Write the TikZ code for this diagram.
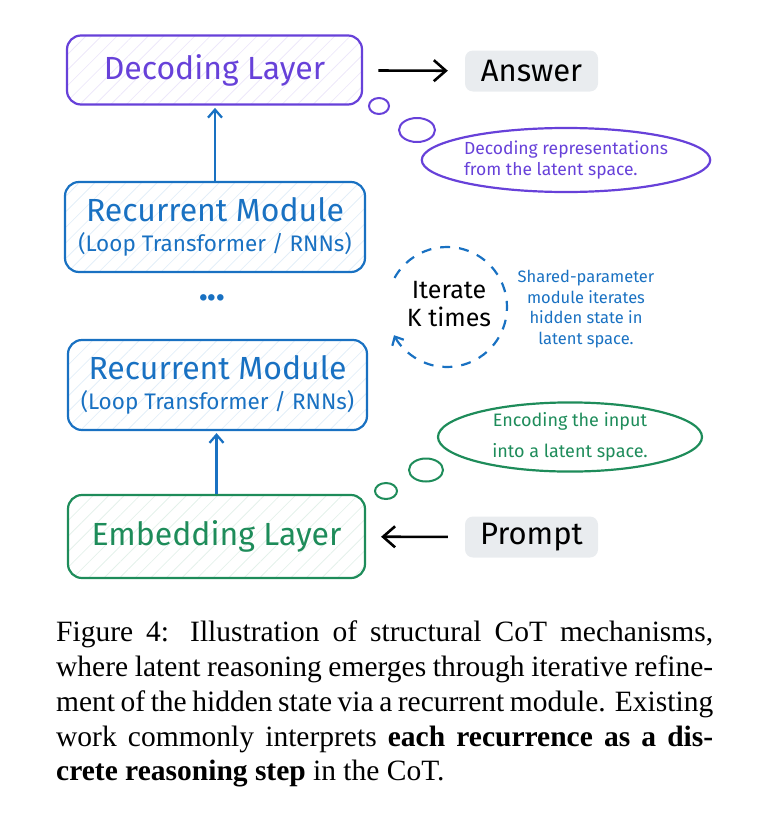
\documentclass[tikz,border=0pt]{standalone}
\usepackage{fontspec}
\setmainfont{Liberation Serif}
\newfontfamily\handfont{Fira Sans}
\usetikzlibrary{arrows.meta,patterns.meta,shapes.geometric}
\definecolor{violetx}{HTML}{6741D9}
\definecolor{bluex}{HTML}{1971C2}
\definecolor{greenx}{HTML}{1E8C5A}
\definecolor{grayx}{HTML}{E9ECEF}
\tikzset{
  layer/.style={draw=#1, line width=2.2pt, rounded corners=14pt, text=#1,
    pattern={Lines[angle=45,distance=11pt,line width=0.8pt]}, pattern color=#1!12,
    align=center, inner sep=0pt, font=\handfont\fontsize{32}{34}\selectfont},
  tag/.style={fill=grayx, rounded corners=8pt, minimum width=133pt, minimum height=41pt,
    inner sep=0pt, font=\handfont\fontsize{31}{34}\selectfont},
  thought/.style={ellipse, draw=#1, line width=2.2pt, text=#1, inner sep=0pt},
  bubble/.style={draw=#1, line width=2pt},
  blackarrow/.style={-{Straight Barb[length=12pt,width=21pt]}, line width=2.6pt},
  bluearrow/.style={-{Straight Barb[length=8pt,width=14pt]}, line width=2.3pt, bluex},
}
\newcommand{\subfont}{\fontsize{22.5}{24}\selectfont}
\begin{document}
\begin{tikzpicture}[x=1pt,y=-1pt]
\useasboundingbox (0,0) rectangle (773,822);
\node[layer=violetx, minimum width=295pt, minimum height=69pt] (dec) at (214.5,70) {Decoding Layer};
\node[layer=bluex, minimum width=300pt, minimum height=90pt] (rec1) at (215,227)
  {Recurrent Module\\[-4pt]{\subfont (Loop Transformer / RNNs)}};
\node[text=bluex, font=\handfont\bfseries\fontsize{36}{36}\selectfont] (dots) at (212,298) {...};
\node[layer=bluex, minimum width=299pt, minimum height=90pt] (rec2) at (217.5,385)
  {Recurrent Module\\[-4pt]{\subfont (Loop Transformer / RNNs)}};
\node[layer=greenx, minimum width=297pt, minimum height=83pt] (emb) at (216.5,536.5) {Embedding Layer};

\node[tag] (ans) at (531.5,71) {Answer};
\node[tag] (prompt) at (531.5,537) {Prompt};
\draw[blackarrow, shorten <=16pt, shorten >=17pt] (dec) -- (ans);
\draw[blackarrow, shorten <=17pt, shorten >=15pt] (prompt) -- (emb);
\draw[bluearrow, shorten >=3pt] (rec1.north) -- (rec1.north |- dec.south);
\draw[bluearrow, shorten >=2pt] (emb.north) -- (emb.north |- rec2.south);

\draw[bubble=violetx] (379,106) ellipse [x radius=10, y radius=8];
\draw[bubble=violetx] (417,130) ellipse [x radius=18, y radius=12];
\node[thought=violetx, minimum width=262pt, minimum height=64pt, align=left,
  font=\handfont\fontsize{17.5}{21}\selectfont] (decnote) at (566,160)
  {Decoding representations\\from the latent space.};

\draw[bubble=greenx] (386,491) ellipse [x radius=11, y radius=8];
\draw[bubble=greenx] (426,470) ellipse [x radius=17, y radius=11.5];
\node[thought=greenx, minimum width=264pt, minimum height=68pt, align=center,
  font=\handfont\fontsize{18}{31}\selectfont] (embnote) at (570,437)
  {Encoding the input\\into a latent space.};

\coordinate (loopc) at (447,307);
\draw[bluex, line width=2.2pt, dash pattern=on 10pt off 9pt, -{Straight Barb[length=7pt,width=13pt]}]
  (loopc) ++(209:60) arc[start angle=209, end angle=512, radius=60];
\node[align=center, font=\handfont\fontsize{25}{28}\selectfont] (iter) at (449,304) {Iterate\\K times};
\node[align=center, text=bluex, font=\handfont\fontsize{16.5}{20.7}\selectfont] (share) at (586,309)
  {Shared-parameter\\module iterates\\hidden state in\\latent space.};

\node[anchor=north west, inner sep=0pt, align=left, font=\fontsize{29.5}{34.7}\selectfont] (cap) at (56,621)
  {\makebox[657pt][s]{Figure 4: Illustration of structural CoT mechanisms,}\\
   \makebox[657pt][s]{where latent reasoning emerges through iterative refine-}\\
   \makebox[657pt][s]{ment of the hidden state via a recurrent module. Existing}\\
   \makebox[657pt][s]{work commonly interprets \textbf{each recurrence as a dis-}}\\
   \textbf{crete reasoning step} in the CoT.};
\end{tikzpicture}
\end{document}
